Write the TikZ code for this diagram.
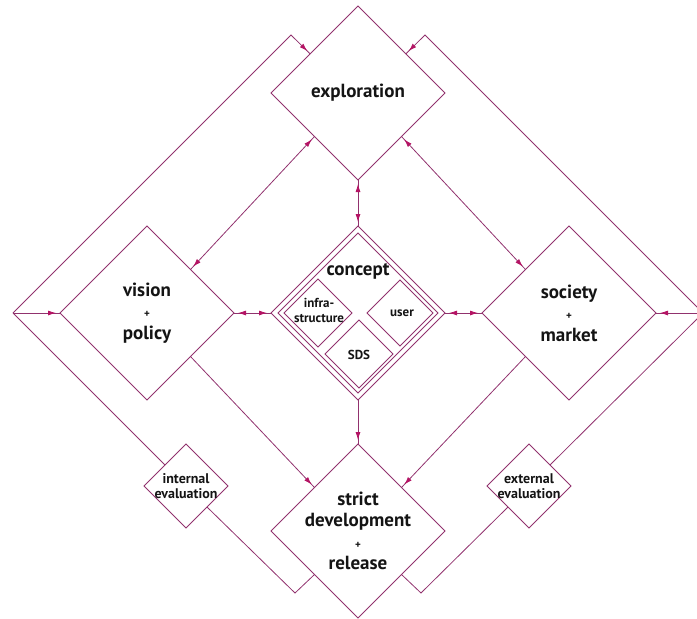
\documentclass[tikz,border=0pt]{standalone}
\usepackage{fontspec}
\setmainfont{PT Sans}
\usetikzlibrary{shapes.geometric,arrows.meta,decorations.markings,calc}
\definecolor{ln}{RGB}{145,50,110}
\definecolor{tp}{RGB}{180,20,100}
\definecolor{tx}{RGB}{20,20,20}
\begin{document}
\begin{tikzpicture}[x=1pt,y=-1pt,
  dia/.style={diamond,draw=ln,line width=0.8pt,inner sep=0pt,outer sep=0pt,aspect=1,minimum size=#1},
  conn/.style={draw=ln,line width=0.8pt},
  lab/.style={text=tx,font=\bfseries\fontsize{19}{21.5}\selectfont,align=center,inner sep=0pt},
  slab/.style={text=tx,font=\bfseries\fontsize{13}{15}\selectfont,align=center,inner sep=0pt},
  tipE/.style={postaction={decorate,decoration={markings,mark=at position -4pt with {\arrow{Latex[length=8pt,width=5pt,color=tp]}}}}},
  tipS/.style={postaction={decorate,decoration={markings,mark=at position 4pt with {\arrowreversed{Latex[length=8pt,width=5pt,color=tp]}}}}}
]
\useasboundingbox (0,0) rectangle (697,619);
% main diamonds
\node[dia=174pt] (expl) at (358,93) {};
\node[dia=174pt] (vis) at (147,313) {};
\node[dia=174pt] (conc) at (358,313) {};
\node[dia=174pt] (soc) at (569,313) {};
\node[dia=174pt] (strict) at (358,531) {};
% inner border of concept
\coordinate (cN) at (358,233);
\coordinate (cE) at (438,313);
\coordinate (cS) at (358,393);
\coordinate (cW) at (278,313);
\draw[conn] (cN) -- (cE) -- (cS) -- (cW) -- cycle;
% inner diamonds
\node[dia=68pt] (infra) at (318,313) {};
\node[dia=66pt] (user) at (400,313) {};
\node[dia=68pt] (sds) at (359,354) {};
% evaluation diamonds
\node[dia=84pt] (ieval) at (186,486) {};
\node[dia=84pt] (eeval) at (529,486) {};
% labels
\node[lab] (explT) at (expl) {exploration};
\node[lab] (concT) at (358,271) {concept};
\node[lab] (visT) at (vis) {vision\\{\fontsize{11}{11}\selectfont +}\\policy};
\node[lab] (socT) at (soc) {society\\{\fontsize{11}{11}\selectfont +}\\market};
\node[lab] (strictT) at (strict) {strict\\development\\{\fontsize{11}{11}\selectfont +}\\release};
\node[slab] (infraT) at (319,310) {infra-\\structure};
\node[slab] (userT) at (402,313) {user};
\node[slab] (sdsT) at (359,355) {SDS};
\node[slab,font=\bfseries\fontsize{14}{15}\selectfont] (ievalT) at (ieval) {internal\\evaluation};
\node[slab,font=\bfseries\fontsize{14}{15}\selectfont] (eevalT) at (eeval) {external\\evaluation};
% outer loop corners
\coordinate (L) at (13,313);
\coordinate (R) at (703,313);
\coordinate (A) at (291,35);
\coordinate (B) at (425,35);
\coordinate (C) at (295,593);
\coordinate (D) at (421,593);
% outer loops
\draw[conn,tipE] (L) -- (vis.west);
\draw[conn,tipE] (R) -- (soc.east);
\draw[conn,tipE] (L) -- (A) -- ($(expl.west)!0.45!(expl.north)$);
\draw[conn,tipE] (R) -- (B) -- ($(expl.east)!0.45!(expl.north)$);
\draw[conn] (L) -- ($(ieval.west)!0.5!(ieval.north)$);
\draw[conn] (R) -- ($(eeval.east)!0.5!(eeval.north)$);
\draw[conn] ($(ieval.south)!0.5!(ieval.east)$) -- (C) -- ($(strict.west)!0.5!(strict.south)$);
\draw[conn] ($(eeval.south)!0.5!(eeval.west)$) -- (D) -- ($(strict.east)!0.5!(strict.south)$);
% inner connectors
\draw[conn,tipS,tipE] ($(expl.west)!0.5!(expl.south)$) -- ($(vis.north)!0.5!(vis.east)$);
\draw[conn,tipS,tipE] ($(expl.east)!0.5!(expl.south)$) -- ($(soc.north)!0.5!(soc.west)$);
\draw[conn,tipS,tipE] (expl.south) -- (conc.north);
\draw[conn,tipS,tipE] (vis.east) -- (conc.west);
\draw[conn,tipS,tipE] (conc.east) -- (soc.west);
\draw[conn,tipE] (conc.south) -- (strict.north);
\draw[conn,tipE] ($(vis.south)!0.5!(vis.east)$) -- ($(strict.west)!0.5!(strict.north)$);
\draw[conn,tipE] ($(soc.south)!0.5!(soc.west)$) -- ($(strict.east)!0.5!(strict.north)$);
\end{tikzpicture}
\end{document}
